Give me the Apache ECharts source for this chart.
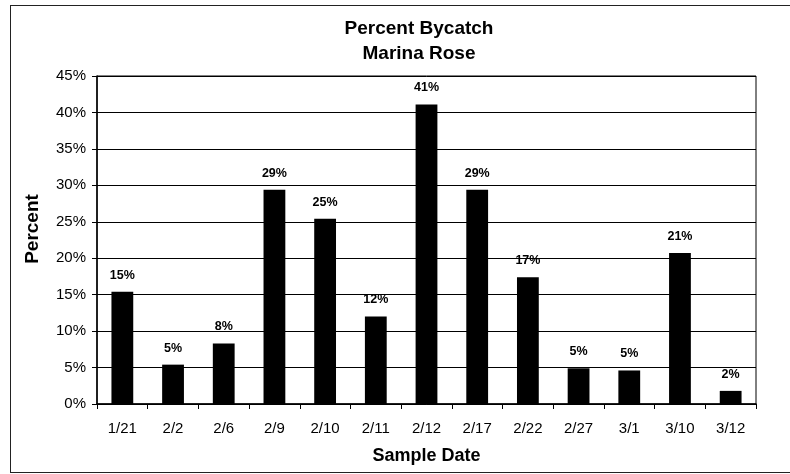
<!DOCTYPE html>
<html>
<head>
<meta charset="utf-8">
<script src="https://cdn.jsdelivr.net/npm/echarts@6/dist/echarts.min.js"></script>
<style>
  html, body { margin: 0; padding: 0; background: #fff; }
  #frame { position: absolute; left: 10px; top: 5px; width: 800px; height: 468px; border: 1px solid #222; box-sizing: border-box; }
  #chart { position: absolute; left: 0; top: 0; width: 790px; height: 474px; }
</style>
</head>
<body>
<div id="frame"></div>
<div id="chart"></div>
<script>
// Sample dates and percent bycatch per sample
const sampleDates = ['1/21', '2/2', '2/6', '2/9', '2/10', '2/11', '2/12', '2/17', '2/22', '2/27', '3/1', '3/10', '3/12'];
const bycatchPct = [15.4, 5.4, 8.3, 29.4, 25.4, 12.0, 41.1, 29.4, 17.4, 4.9, 4.6, 20.7, 1.8];
const titleLines = ['Percent Bycatch', 'Marina Rose'];
const yAxisName = 'Percent';
const xAxisName = 'Sample Date';

const font = 'Arial, "Liberation Sans", sans-serif';
const chart = echarts.init(document.getElementById('chart'));

chart.setOption({
  animation: false,
  title: {
    text: titleLines.join('\n'),
    left: 414,
    top: 11,
    textAlign: 'center',
    textStyle: { fontFamily: font, fontSize: 19, fontWeight: 'bold', color: '#000', lineHeight: 25 }
  },
  // Rotated y-axis title, sitting slightly above the plot's middle
  graphic: [{
    type: 'text',
    x: 33,
    y: 229,
    rotation: Math.PI / 2,
    style: {
      text: yAxisName,
      fontFamily: font, fontSize: 19, fontWeight: 'bold', fill: '#000',
      align: 'center', verticalAlign: 'middle'
    }
  }],
  grid: {
    left: 97, right: 34, top: 76, bottom: 70,
    show: true, borderColor: '#000', borderWidth: 1, backgroundColor: 'transparent'
  },
  xAxis: {
    type: 'category',
    data: sampleDates,
    name: xAxisName,
    nameLocation: 'middle',
    nameGap: 43,
    nameTextStyle: { fontFamily: font, fontSize: 18, fontWeight: 'bold', color: '#000' },
    axisLine: { lineStyle: { color: '#000', width: 1.5 } },
    axisTick: { show: true, alignWithLabel: false, length: 5, lineStyle: { color: '#000' } },
    axisLabel: { fontFamily: font, fontSize: 15, color: '#000', margin: 17 },
    splitLine: { show: false }
  },
  yAxis: {
    type: 'value',
    min: 0, max: 45, interval: 5,
    axisLine: { show: true, lineStyle: { color: '#000', width: 1.5 } },
    axisTick: { show: true, length: 5, lineStyle: { color: '#000' } },
    axisLabel: { fontFamily: font, fontSize: 15, color: '#000', margin: 11, formatter: v => v + '%' },
    splitLine: { show: true, lineStyle: { color: '#000', width: 1 } }
  },
  series: [{
    type: 'bar',
    data: bycatchPct,
    barWidth: '43%',
    itemStyle: { color: '#000' },
    label: {
      show: true,
      position: 'top',
      distance: 10,
      fontFamily: font,
      fontSize: 12.5,
      fontWeight: 'bold',
      color: '#000',
      formatter: p => Math.round(p.value) + '%'
    }
  }]
});
</script>
</body>
</html>
